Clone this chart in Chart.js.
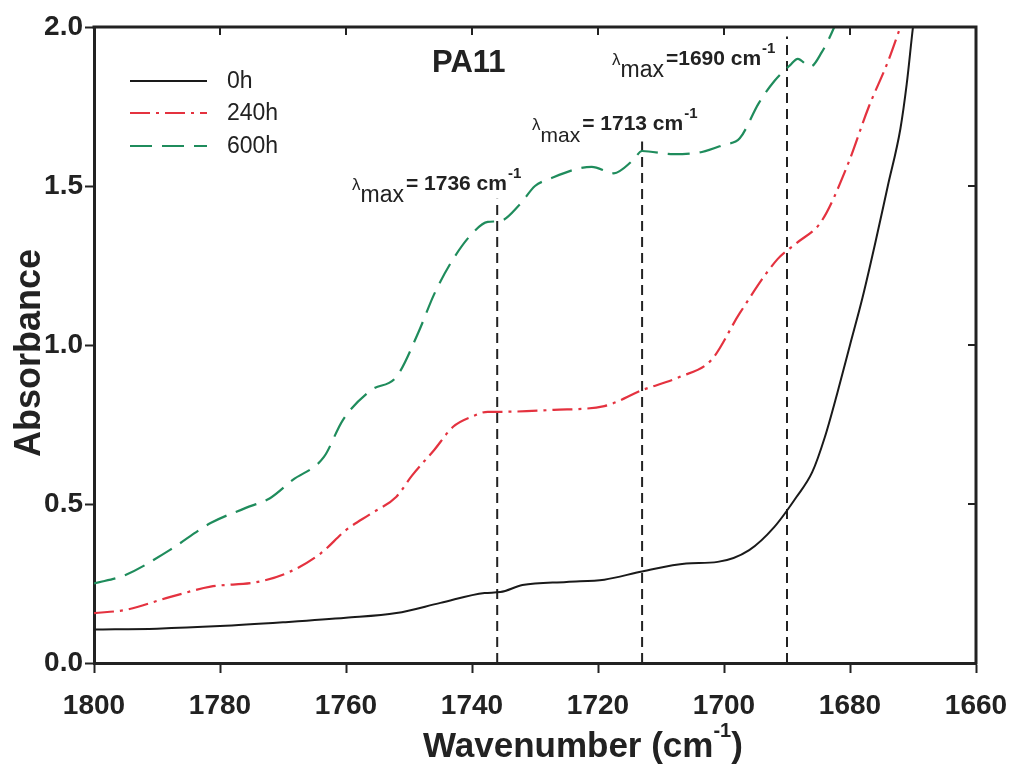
<!DOCTYPE html>
<html>
<head>
<meta charset="utf-8">
<title>PA11 - FTIR carbonyl region</title>
<script src="https://cdn.jsdelivr.net/npm/chart.js@4.4.1/dist/chart.umd.min.js"></script>
<style>
  html, body { margin: 0; padding: 0; background: #fff; }
  #wrap { width: 1014px; height: 764px; position: relative; }
</style>
</head>
<body>
<div id="wrap"><canvas id="ftirChart"></canvas></div>
<script>
// spectra, wavenumber in cm-1 (high to low) and absorbance
var wn0h = [1800, 1790, 1780, 1770, 1760, 1752, 1745, 1738, 1735.5, 1732, 1725, 1719, 1713, 1706, 1701, 1696, 1692, 1688.5, 1686, 1684, 1682, 1680, 1678, 1676, 1674, 1672, 1671, 1670, 1669];
var abs0h = [0.105, 0.108, 0.116, 0.128, 0.142, 0.157, 0.189, 0.22, 0.223, 0.245, 0.255, 0.262, 0.288, 0.313, 0.318, 0.355, 0.428, 0.522, 0.6, 0.71, 0.85, 1.0, 1.15, 1.32, 1.5, 1.68, 1.82, 2.0, 2.15];

var wn240h = [1800, 1795, 1788, 1781.5, 1774, 1769, 1764, 1760, 1756, 1752, 1749.5, 1746, 1743, 1740, 1737.5, 1735.5, 1727, 1719, 1713, 1707, 1702, 1697.5, 1691.5, 1688.5, 1684.5, 1680.5, 1677, 1674, 1672, 1670.5];
var abs240h = [0.157, 0.167, 0.207, 0.24, 0.255, 0.286, 0.345, 0.418, 0.47, 0.523, 0.59, 0.67, 0.743, 0.775, 0.79, 0.79, 0.796, 0.808, 0.858, 0.9, 0.953, 1.1, 1.27, 1.32, 1.39, 1.56, 1.75, 1.89, 2.0, 2.08];

var wn600h = [1800, 1795, 1788, 1781.5, 1776, 1772, 1768.5, 1763.5, 1760.5, 1756, 1752, 1748.5, 1746, 1743, 1740, 1737.5, 1735.5, 1732.5, 1730, 1728, 1721, 1717.5, 1714.5, 1713, 1708, 1703.5, 1700, 1697.5, 1694.5, 1692, 1689.5, 1688.3, 1686.3, 1684.5, 1682.5, 1681];
var abs600h = [0.25, 0.277, 0.355, 0.44, 0.487, 0.519, 0.575, 0.648, 0.764, 0.858, 0.9, 1.04, 1.16, 1.27, 1.35, 1.387, 1.39, 1.44, 1.5, 1.52, 1.56, 1.54, 1.58, 1.61, 1.6, 1.607, 1.63, 1.65, 1.76, 1.83, 1.88, 1.9, 1.875, 1.92, 2.0, 2.08];

var seriesNames = ['0h', '240h', '600h'];

// carbonyl band maxima and the height the marker lines reach
var peakWavenumbers = [1736, 1713, 1690];
var peakLineTops = [1.46, 1.64, 1.97];

var xTicks = [1800, 1780, 1760, 1740, 1720, 1700, 1680, 1660];
var yTicks = [0, 0.5, 1.0, 1.5, 2.0];

var INK = '#222';
var FONT = '"Liberation Sans", Arial, sans-serif';

function toPoints(xs, ys) {
    return xs.map(function (x, i) { return { x: x, y: ys[i] }; });
}

var datasets = [
    { label: seriesNames[0], data: toPoints(wn0h, abs0h), borderColor: '#1a1a1a', borderWidth: 2 },
    { label: seriesNames[1], data: toPoints(wn240h, abs240h), borderColor: '#e4323f', borderWidth: 2.2, borderDash: [20, 6, 3, 6] },
    { label: seriesNames[2], data: toPoints(wn600h, abs600h), borderColor: '#1f8c5c', borderWidth: 2.2, borderDash: [22, 10] }
];
datasets.forEach(function (d) {
    d.pointRadius = 0;
    d.cubicInterpolationMode = 'monotone';
});

// dashed vertical markers at each band maximum
peakWavenumbers.forEach(function (p, i) {
    datasets.push({
        label: 'peak ' + p,
        data: [{ x: p, y: 0 }, { x: p, y: peakLineTops[i] }],
        borderColor: INK,
        borderWidth: 2,
        borderDash: [10, 6],
        pointRadius: 0
    });
});

// lambda-max label: λ, subscript "max", value, superscript -1
function drawLambda(ctx, x, yBase, value, subSize) {
    ctx.fillStyle = INK;
    ctx.textBaseline = 'alphabetic';
    ctx.textAlign = 'left';
    ctx.font = '17px ' + FONT;
    ctx.fillText('λ', x, yBase);
    x += ctx.measureText('λ').width;
    ctx.font = subSize + 'px ' + FONT;
    ctx.fillText('max', x, yBase + 12);
    x += ctx.measureText('max').width + 2;
    ctx.font = 'bold 21px ' + FONT;
    ctx.fillText(value, x, yBase);
    x += ctx.measureText(value).width + 1;
    ctx.font = 'bold 15px ' + FONT;
    ctx.fillText('-1', x, yBase - 12);
}

var decorations = {
    id: 'decorations',
    afterDraw: function (chart) {
        var ctx = chart.ctx;
        var area = chart.chartArea;
        var xs = chart.scales.x;
        var ys = chart.scales.y;
        ctx.save();

        // closing frame on top and right, with inward ticks
        ctx.strokeStyle = INK;
        ctx.lineWidth = 3;
        ctx.beginPath();
        ctx.moveTo(area.left - 1.5, area.top);
        ctx.lineTo(area.right, area.top);
        ctx.lineTo(area.right, area.bottom + 1.5);
        ctx.stroke();
        ctx.lineWidth = 2;
        ctx.beginPath();
        xTicks.forEach(function (v) {
            var px = xs.getPixelForValue(v);
            ctx.moveTo(px, area.top);
            ctx.lineTo(px, area.top + 8);
        });
        yTicks.forEach(function (v) {
            var py = ys.getPixelForValue(v);
            ctx.moveTo(area.right, py);
            ctx.lineTo(area.right - 8, py);
        });
        ctx.stroke();

        // axis titles
        ctx.fillStyle = INK;
        ctx.textBaseline = 'alphabetic';
        ctx.textAlign = 'left';
        ctx.font = 'bold 35px ' + FONT;
        var t1 = 'Wavenumber (cm';
        var w1 = ctx.measureText(t1).width;
        ctx.font = 'bold 20px ' + FONT;
        var w2 = ctx.measureText('-1').width;
        var tx = 423;
        ctx.font = 'bold 35px ' + FONT;
        ctx.fillText(t1, tx, 757);
        ctx.font = 'bold 20px ' + FONT;
        ctx.fillText('-1', tx + w1, 737);
        ctx.font = 'bold 35px ' + FONT;
        ctx.fillText(')', tx + w1 + w2, 757);

        ctx.save();
        ctx.translate(40, 353);
        ctx.rotate(-Math.PI / 2);
        ctx.textAlign = 'center';
        ctx.font = 'bold 36px ' + FONT;
        ctx.fillText('Absorbance', 0, 0);
        ctx.restore();

        // sample name
        ctx.font = 'bold 31px ' + FONT;
        ctx.fillText('PA11', 432, 72);

        // legend
        var styles = [
            { c: '#1a1a1a', d: [] },
            { c: '#e4323f', d: [20, 6, 3, 6] },
            { c: '#1f8c5c', d: [22, 10] }
        ];
        var rows = [81, 113, 146];
        ctx.font = '23px ' + FONT;
        ctx.textBaseline = 'middle';
        seriesNames.forEach(function (name, i) {
            ctx.strokeStyle = styles[i].c;
            ctx.lineWidth = 2.2;
            ctx.setLineDash(styles[i].d);
            ctx.beginPath();
            ctx.moveTo(130, rows[i]);
            ctx.lineTo(207, rows[i]);
            ctx.stroke();
            ctx.setLineDash([]);
            ctx.fillStyle = INK;
            ctx.fillText(name, 227, rows[i] + 1);
        });

        // band maximum labels
        drawLambda(ctx, 352, 190, '= 1736 cm', 23);
        drawLambda(ctx, 532, 130, '= 1713 cm', 21);
        drawLambda(ctx, 612, 65, '=1690 cm', 23);

        ctx.restore();
    }
};

Chart.defaults.font.family = FONT;
Chart.defaults.color = INK;

var chart = new Chart(document.getElementById('ftirChart').getContext('2d'), {
    type: 'line',
    data: { datasets: datasets },
    options: {
        responsive: true,
        maintainAspectRatio: false,
        animation: false,
        layout: { padding: { top: 27, right: 38, left: 0, bottom: 0 } },
        plugins: {
            legend: { display: false },
            tooltip: { enabled: false }
        },
        scales: {
            x: {
                type: 'linear',
                reverse: true,
                min: 1660,
                max: 1800,
                afterFit: function (s) {
                    s.height = 101;
                    s.paddingLeft = 0;
                    s.paddingRight = 0;
                },
                afterBuildTicks: function (s) { s.ticks = xTicks.map(function (v) { return { value: v }; }); },
                border: { color: INK, width: 3 },
                grid: { drawOnChartArea: false, tickLength: 10, tickColor: INK, tickWidth: 2 },
                ticks: {
                    font: { size: 28, weight: 'bold' },
                    color: INK,
                    padding: 16,
                    maxRotation: 0,
                    callback: function (v) { return String(v); }
                }
            },
            y: {
                min: 0,
                max: 2,
                afterFit: function (s) {
                    s.width = 94;
                    s.paddingTop = 0;
                    s.paddingBottom = 0;
                },
                afterBuildTicks: function (s) { s.ticks = yTicks.map(function (v) { return { value: v }; }); },
                border: { color: INK, width: 3 },
                grid: { drawOnChartArea: false, tickLength: 9, tickColor: INK, tickWidth: 2 },
                ticks: {
                    font: { size: 28, weight: 'bold' },
                    color: INK,
                    padding: 2,
                    callback: function (v) { return v.toFixed(1); }
                }
            }
        }
    },
    plugins: [decorations]
});
</script>
</body>
</html>
